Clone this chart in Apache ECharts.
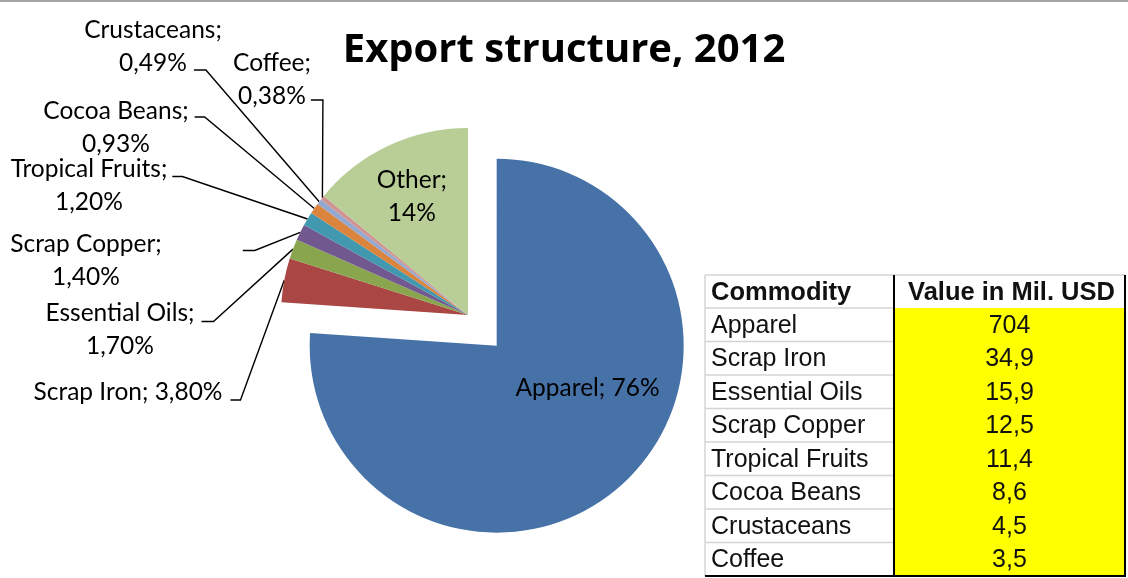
<!DOCTYPE html>
<html>
<head>
<meta charset="utf-8">
<script src="https://cdn.jsdelivr.net/npm/echarts@6/dist/echarts.min.js"></script>
<style>
  html, body { margin: 0; padding: 0; background: #fff; }
  #chart { width: 1128px; height: 578px; }
</style>
</head>
<body>
<div id="chart"></div>
<script>
// ---- data ----
const titleText = 'Export structure, 2012';
const categories = ['Apparel', 'Scrap Iron', 'Essential Oils', 'Scrap Copper', 'Tropical Fruits',
                    'Cocoa Beans', 'Crustaceans', 'Coffee', 'Other'];
// share of total exports, percent
const shares = [76, 3.8, 1.7, 1.4, 1.2, 0.93, 0.49, 0.38, 14];

const tableHeaders = ['Commodity', 'Value in Mil. USD'];
const tableCommodities = ['Apparel', 'Scrap Iron', 'Essential Oils', 'Scrap Copper', 'Tropical Fruits',
                          'Cocoa Beans', 'Crustaceans', 'Coffee'];
const tableValues = [704, 34.9, 15.9, 12.5, 11.4, 8.6, 4.5, 3.5];

// ---- styles ----
const sliceColors = ['#4672A7', '#AA4643', '#89A54E', '#71588F', '#4198AF',
                     '#DB843D', '#93A9CF', '#D19392', '#B9CD96'];
const LABEL_FONT = 'Lato';
const LABEL_SIZE = 24.5;
const LABEL_LH = 33;

// label placement per slice (same order as categories)
// inside labels are nudged by dx/dy; outside labels get a block centre and a leader line
const labelSpots = [
  { inside: true, oneLine: true, dx: 25, dy: -28 },
  { cx: 128, cy: 392, oneLine: true, attach: 0, gap: 8, ly: 8, bend: 10 },
  { cx: 120, cy: 330, attach: 0, gap: 7, ly: 8, bend: 12 },
  { cx: 86,  cy: 261, attach: 0, gap: 81, ly: 6, bend: 12 },
  { cx: 89,  cy: 186, attach: 0, gap: 5, ly: 7, bend: 10 },
  { cx: 116, cy: 127.5, attach: 0, gap: 6, ly: 6, bend: 10 },
  { cx: 153, cy: 46.5, attach: 1, gap: 7, ly: 7, bend: 12 },
  { cx: 272, cy: 79.5, attach: 1, gap: 5, ly: 4, bend: 12 },
  { inside: true, dx: -15, dy: -31 }
];

function fmtShare(v) {
  const s = v >= 10 ? String(Math.round(v)) : v.toFixed(2);
  return s.replace('.', ',');
}
function fmtUsd(v) {
  return String(v).replace('.', ',');
}

const measureCtx = document.createElement('canvas').getContext('2d');
function textWidth(t) {
  measureCtx.font = LABEL_SIZE + 'px ' + LABEL_FONT;
  return measureCtx.measureText(t).width;
}

// ---- table (drawn as graphic elements) ----
const T = { x: 705, y: 275, col1: 189, col2: 231, headH: 33, rowH: 33.5, font: 'Liberation Sans, Arial', size: 25, headSize: 25.5 };
function buildTable() {
  const els = [];
  const W = T.col1 + T.col2;
  const bodyTop = T.y + T.headH;
  const bottom = bodyTop + T.rowH * tableCommodities.length;
  const x2 = T.x + T.col1;
  els.push({ type: 'rect', shape: { x: T.x, y: T.y, width: W, height: bottom - T.y }, style: { fill: '#fff' }, z: 1 });
  els.push({ type: 'rect', shape: { x: x2, y: bodyTop, width: T.col2, height: bottom - bodyTop }, style: { fill: '#FFFF00' }, z: 2 });
  const grey = { stroke: '#d4d4d4', lineWidth: 1.5 };
  // light grid in the first column and outer top/left
  els.push({ type: 'line', shape: { x1: T.x, y1: T.y, x2: T.x + W, y2: T.y }, style: grey, z: 3 });
  els.push({ type: 'line', shape: { x1: T.x, y1: T.y, x2: T.x, y2: bottom }, style: grey, z: 3 });
  for (let i = 0; i < tableCommodities.length; i++) {
    const yy = bodyTop + i * T.rowH;
    els.push({ type: 'line', shape: { x1: T.x, y1: yy, x2: x2, y2: yy }, style: grey, z: 3 });
  }
  const dark = { stroke: '#000', lineWidth: 2 };
  els.push({ type: 'line', shape: { x1: x2, y1: T.y, x2: x2, y2: bottom }, style: dark, z: 4 });
  els.push({ type: 'line', shape: { x1: T.x + W, y1: T.y, x2: T.x + W, y2: bottom }, style: dark, z: 4 });
  els.push({ type: 'line', shape: { x1: T.x, y1: bottom, x2: T.x + W + 1, y2: bottom }, style: dark, z: 4 });
  const txt = (text, x, y, align, bold) => ({
    type: 'text', z: 5, x: x, y: y,
    style: { text: text, fill: '#111',
             font: (bold ? 'bold ' + T.headSize : T.size) + 'px ' + T.font,
             align: align, verticalAlign: 'middle' }
  });
  els.push(txt(tableHeaders[0], T.x + 6, T.y + T.headH / 2 + 1, 'left', true));
  els.push(txt(tableHeaders[1], x2 + T.col2 / 2 + 2, T.y + T.headH / 2 + 1, 'center', true));
  tableCommodities.forEach((name, i) => {
    const cy = bodyTop + i * T.rowH + T.rowH / 2 + 1;
    els.push(txt(name, T.x + 6, cy, 'left', false));
    els.push(txt(fmtUsd(tableValues[i]), x2 + T.col2 / 2, cy, 'center', false));
  });
  return els;
}

const chart = echarts.init(document.getElementById('chart'), null, { renderer: 'canvas' });

chart.setOption({
  animation: false,
  backgroundColor: '#fff',
  title: {
    text: titleText,
    left: 'center',
    top: 26,
    textStyle: { fontFamily: 'Open Sans', fontWeight: 'bold', fontSize: 40, color: '#000' }
  },
  graphic: [
    { type: 'rect', shape: { x: 0, y: 0, width: 1128, height: 2 }, style: { fill: '#a3a3a3' }, z: 10 }
  ].concat(buildTable()),
  series: [{
    type: 'pie',
    center: [468, 315],
    radius: 187,
    startAngle: 90,
    clockwise: true,
    selectedMode: 'single',
    selectedOffset: 42,
    avoidLabelOverlap: false,
    silent: true,
    data: categories.map((name, i) => ({
      name: name,
      value: shares[i],
      selected: i === 0,
      itemStyle: { color: sliceColors[i] },
      label: { position: labelSpots[i].inside ? 'inside' : 'outside' },
      labelLine: { show: !labelSpots[i].inside }
    })),
    itemStyle: { borderWidth: 0 },
    label: {
      show: true,
      color: '#000',
      fontFamily: LABEL_FONT,
      fontSize: LABEL_SIZE,
      lineHeight: LABEL_LH,
      formatter: p => {
        const s = labelSpots[p.dataIndex];
        return p.name + ';' + (s.oneLine ? ' ' : '\n') + fmtShare(p.value) + '%';
      }
    },
    labelLine: { show: true, length: 10, length2: 10, lineStyle: { color: '#000', width: 1.4 } },
    labelLayout: function (params) {
      const s = labelSpots[params.dataIndex];
      if (!s) return {};
      if (s.inside) return { dx: s.dx, dy: s.dy };
      const lines = params.text.split('\n');
      const n = lines.length;
      const lineCy = s.cy - (n - 1) * LABEL_LH / 2 + s.attach * LABEL_LH;
      const endX = s.cx + textWidth(lines[s.attach]) / 2 + s.gap;
      const endY = lineCy + s.ly;
      const out = { x: s.cx, y: s.cy, align: 'center', verticalAlign: 'middle' };
      const pts = params.labelLinePoints;
      if (pts && pts.length) {
        out.labelLinePoints = [[pts[0][0], pts[0][1]], [endX + s.bend, endY], [endX, endY]];
      }
      return out;
    }
  }]
});
</script>
</body>
</html>
